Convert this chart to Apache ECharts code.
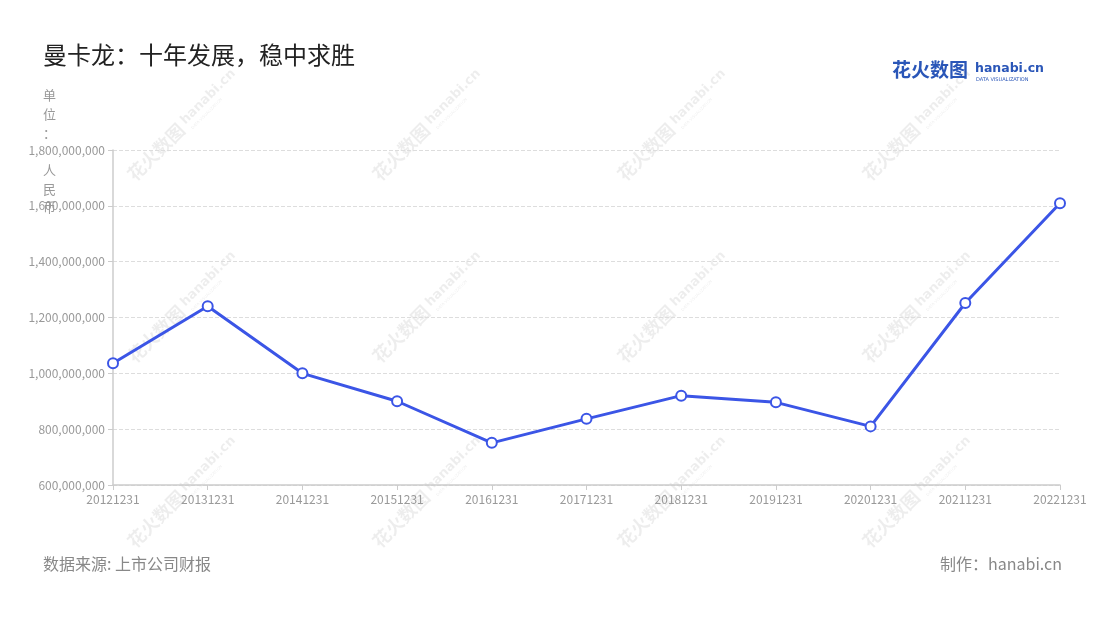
<!DOCTYPE html>
<html>
<head>
<meta charset="utf-8">
<script src="https://cdn.jsdelivr.net/npm/echarts@6/dist/echarts.min.js"></script>
<style>html,body{margin:0;padding:0;background:#fff;}#c{width:1100px;height:620px;}</style>
</head>
<body>
<div id="c"></div>
<script>
const categories = ['20121231','20131231','20141231','20151231','20161231','20171231','20181231','20191231','20201231','20211231','20221231'];
const revenue = [1036000000,1240000000,1000000000,900000000,751000000,837000000,920000000,896000000,810000000,1252000000,1609000000];
const titleText = '曼卡龙：十年发展，稳中求胜';
const unitText = '单\n位\n：\n\n人\n民\n币';
const sourceText = '数据来源: 上市公司财报';
const makerText = '制作：hanabi.cn';

const font = '"Noto Sans CJK SC","Noto Sans",sans-serif';
const chart = echarts.init(document.getElementById('c'));

const wmPos = [];
[180,425,670,915].forEach(x => [128,310,495].forEach(y => wmPos.push([x,y])));
const watermarks = [];
wmPos.forEach(p => {
  watermarks.push({
    type: 'group', x: p[0], y: p[1], rotation: Math.PI/4, z: 0, silent: true,
    children: [
      { type: 'text', x: -70, y: 0, style: { text: '花火数图', fill: 'rgba(0,0,0,0.07)', font: 'bold 18px ' + font, verticalAlign: 'middle' } },
      { type: 'text', x: 6, y: -2, style: { text: 'hanabi.cn', fill: 'rgba(0,0,0,0.07)', font: 'bold 13px "DejaVu Sans",sans-serif', verticalAlign: 'middle' } },
      { type: 'text', x: 8, y: 9, style: { text: 'DATA VISUALIZATION', fill: 'rgba(0,0,0,0.07)', font: '4px "DejaVu Sans",sans-serif', verticalAlign: 'middle' } }
    ]
  });
});

chart.setOption({
  backgroundColor: '#fff',
  animation: false,
  title: { text: titleText, left: 38, top: 38, textStyle: { fontSize: 24, fontWeight: 'normal', color: '#222', fontFamily: font } },
  grid: { left: 113, right: 40, top: 150, bottom: 135 },
  xAxis: {
    type: 'category', data: categories, boundaryGap: false,
    axisLine: { lineStyle: { color: '#ccc', width: 1.5 } },
    axisTick: { show: true, lineStyle: { color: '#ccc' } },
    axisLabel: { color: '#999', fontSize: 12, fontFamily: font, margin: 8 }
  },
  yAxis: {
    type: 'value', min: 600000000, max: 1800000000, interval: 200000000,
    axisLine: { show: true, lineStyle: { color: '#ccc', width: 1.5 } },
    axisTick: { show: true, lineStyle: { color: '#ccc' } },
    axisLabel: { color: '#999', fontSize: 12, fontFamily: font, formatter: v => v.toLocaleString('en-US') },
    splitLine: { lineStyle: { color: '#ddd', type: 'dashed' } }
  },
  series: [{
    type: 'line', data: revenue,
    lineStyle: { color: '#3B55E6', width: 3 },
    itemStyle: { color: '#fff', borderColor: '#3B55E6', borderWidth: 2 },
    symbol: 'circle', symbolSize: 10, z: 5
  }],
  graphic: watermarks.concat([
    { type: 'text', left: 43, top: 86, z: 10, style: { text: unitText, fill: '#999', font: '13px ' + font, lineHeight: 18.7 } },
    { type: 'text', left: 43, top: 556, style: { text: sourceText, fill: '#888', font: '16px ' + font } },
    { type: 'text', right: 38, top: 556, style: { text: makerText, fill: '#888', font: '16px ' + font } },
    { type: 'text', left: 892, top: 60, style: { text: '花火数图', fill: '#2A56B8', font: 'bold 19px ' + font } },
    { type: 'text', left: 975, top: 62, style: { text: 'hanabi.cn', fill: '#2A56B8', font: 'bold 12.5px "DejaVu Sans",sans-serif' } },
    { type: 'text', left: 976, top: 77, style: { text: 'DATA VISUALIZATION', fill: '#2A56B8', font: '5px "DejaVu Sans",sans-serif' } }
  ])
});
</script>
</body>
</html>
